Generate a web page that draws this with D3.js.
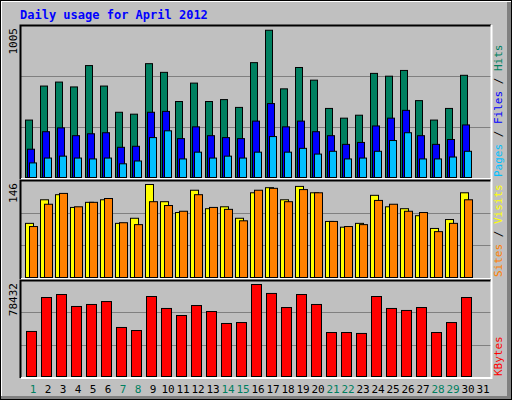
<!DOCTYPE html>
<html>
<head>
<meta charset="utf-8">
<script src="https://cdn.jsdelivr.net/npm/d3@7"></script>
<style>
  body { margin: 0; background: #fff; }
  text { font-family: "DejaVu Sans Mono", monospace; }
</style>
</head>
<body>
<svg id="chart" width="512" height="400"></svg>
<script>
// data
const days = d3.range(1, 32);
const weekend = [1, 7, 8, 14, 15, 21, 22, 28, 29];
const hits = [390, 621, 648, 615, 760, 621, 443, 430, 773, 714, 516, 641, 516, 529, 476,
  780, 1000, 602, 747, 661, 469, 403, 423, 707, 688, 727, 522, 390, 469, 694, 0];
const files = [192, 311, 337, 284, 297, 304, 205, 212, 443, 449, 264, 344, 284, 271, 264,
  383, 502, 344, 383, 311, 284, 225, 238, 350, 403, 456, 284, 225, 258, 357, 0];
const pages = [99, 132, 145, 132, 126, 132, 93, 112, 271, 317, 126, 172, 132, 145, 132,
  172, 278, 172, 198, 159, 178, 126, 132, 178, 251, 304, 126, 126, 139, 178, 0];
const sites = [85, 122, 130, 110, 118, 122, 85, 93, 146, 119, 102, 137, 108, 111, 93,
  133, 141, 122, 143, 133, 88, 79, 85, 129, 111, 108, 97, 77, 91, 133, 0];
const visits = [80, 115, 132, 111, 118, 124, 86, 83, 119, 113, 104, 130, 110, 107, 89,
  137, 140, 119, 138, 133, 88, 80, 83, 121, 115, 104, 102, 72, 85, 122, 0];
const kbytes = [38400, 67350, 69900, 59700, 61400, 63900, 41800, 39200, 68200, 58000,
  52000, 60500, 55400, 45200, 46000, 78432, 70800, 58800, 69900, 61400, 37500, 37500,
  36700, 68200, 58000, 56300, 58800, 37500, 46000, 67350, 0];

const svg = d3.select('#chart');
const C = { hits: '#008060', files: '#0000ff', pages: '#00c0ff', sites: '#ffff00',
  visits: '#ff8000', kbytes: '#ff0000', grid: '#808080', wk: '#008060' };

// frame
svg.append('rect').attr('x', 0).attr('y', 0).attr('width', 512).attr('height', 400).attr('fill', '#c0c0c0');
svg.append('path').attr('d', 'M1,399V1H511').attr('stroke', '#fff').attr('stroke-width', 2).attr('fill', 'none');
svg.append('path').attr('d', 'M1,398H509V2').attr('stroke', '#808080').attr('stroke-width', 4).attr('fill', 'none');
svg.append('rect').attr('x', 0.5).attr('y', 0.5).attr('width', 511).attr('height', 399)
  .attr('stroke', '#000').attr('fill', 'none');

svg.append('text').attr('x', 20).attr('y', 19).attr('fill', '#0000ff')
  .attr('font-size', 12).attr('font-weight', 'bold').text('Daily usage for April 2012');

const x = d3.scaleBand().domain(days).range([25, 490]).paddingInner(0);

// panels
function panel(top, bottom, max, label, labels) {
  const y = d3.scaleLinear().domain([0, max]).range([bottom - 1, top + 4]);
  svg.append('rect').attr('x', 20.5).attr('y', top + 0.5).attr('width', 471).attr('height', bottom - top)
    .attr('fill', '#c0c0c0');
  [1, 2].forEach(i => {
    const gy = Math.round(top + (bottom - top) * i / 3) + 0.5;
    svg.append('line').attr('x1', 21).attr('x2', 491).attr('y1', gy).attr('y2', gy)
      .attr('stroke', C.grid).attr('stroke-width', 1);
  });
  svg.append('path').attr('d', `M20.5,${bottom + 1}V${top + 0.5}H491`).attr('stroke', '#000').attr('stroke-width', 2).attr('fill', 'none');
  svg.append('path').attr('d', `M21,${bottom + 1}H491.5V${top}`).attr('stroke', '#fff').attr('stroke-width', 2).attr('fill', 'none');
  svg.append('text').attr('transform', `translate(17,${top + 3}) rotate(-90)`)
    .attr('text-anchor', 'end').attr('font-size', 11).text(label);
  const t = svg.append('text').attr('transform', `translate(502,${bottom - 1}) rotate(-90)`)
    .attr('font-size', 11);
  labels.forEach(([s, c]) => t.append('tspan').attr('fill', c).text(s));
  return y;
}

function bars(y, data, color, off, w) {
  svg.append('g').selectAll('rect').data(data.map((v, i) => ({ d: days[i], v })).filter(o => o.v > 0))
    .join('rect')
    .attr('x', o => x(o.d) + off + 0.5).attr('width', w)
    .attr('y', o => y(o.v) + 0.5).attr('height', o => y(0) - y(o.v))
    .attr('fill', color).attr('stroke', '#000').attr('stroke-width', 1);
}

const y1 = panel(25, 178, 1005, '1005',
  [['Pages', C.pages], [' / ', '#000'], ['Files', C.files], [' / ', '#000'], ['Hits', C.hits]]);
bars(y1, hits, C.hits, 0, 7);
bars(y1, files, C.files, 2, 7);
bars(y1, pages, C.pages, 4, 7);

const y2 = panel(180, 278, 146, '146',
  [['Sites', C.visits], [' / ', '#000'], ['Visits', C.sites]]);
bars(y2, sites, C.sites, 0, 8);
bars(y2, visits, C.visits, 4, 8);

const y3 = panel(280, 377, 78432, '78432', [['KBytes', C.kbytes]]);
bars(y3, kbytes, C.kbytes, 1, 10);

// day labels
svg.append('g').selectAll('text').data(days).join('text')
  .attr('x', d => x(d) + 8).attr('y', 393).attr('text-anchor', 'middle').attr('font-size', 11)
  .attr('fill', d => weekend.includes(d) ? C.wk : '#000').text(d => d);
</script>
</body>
</html>
